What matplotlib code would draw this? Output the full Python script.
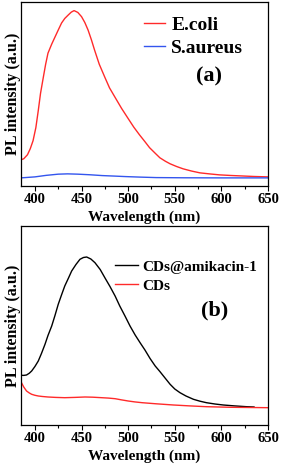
import matplotlib.pyplot as plt
from matplotlib.ticker import MultipleLocator

#%% data (arbitrary PL units)

wl_ecoli = [385, 388, 392, 395, 398, 401, 403.6, 406, 409, 411.5, 414, 418,
            421.5, 425, 428.6, 432, 435.8, 439, 442, 446, 450, 453.5, 457,
            460.5, 464, 469, 475, 480, 486, 493, 500, 506, 512, 518, 523,
            529, 534, 540, 545, 552, 559, 568, 577, 588, 598, 610, 620,
            635, 650]
pl_ecoli = [26, 27, 31, 37, 45, 58, 75, 92, 108, 121, 132, 141,
            148, 155, 162, 166.5, 170, 172.8, 174.3, 172.5, 168.3, 162.5, 155,
            145.5, 135, 121, 108, 97.5, 88, 77, 67, 58.5, 51, 44, 38,
            32.5, 28, 24.5, 22, 19.3, 17, 14.8, 13, 11.9, 11, 10.4, 10,
            9.4, 9]

wl_saureus = [385, 400, 412, 425, 435, 446, 459, 472, 485, 497, 512, 530,
              560, 600, 650]
pl_saureus = [8, 9, 10.5, 11.7, 12, 11.7, 11.1, 10.3, 9.8, 9.3, 8.8, 8.3,
              8.1, 8, 8]

wl_cdsami = [385, 388, 391, 394, 396.5, 400, 403.6, 407, 410.8, 414, 418,
             421.5, 425, 428.5, 432, 436, 439.4, 444, 448.3, 452, 455.5,
             460, 464.4, 470, 475, 480.5, 486, 491, 496.6, 502, 507.5,
             513, 518, 523.5, 529, 534, 540, 545, 550, 555.6, 562, 570,
             577, 584, 593, 602, 614, 627, 635]
pl_cdsami = [49.7, 49.6, 50, 51.8, 54, 58.5, 64, 71.5, 80.7, 89.5, 99,
             109.5, 120.7, 130, 139, 147, 154, 160.5, 165.7, 167.5, 168,
             166, 162.3, 155.5, 147.3, 138.5, 129, 119, 109, 99, 90,
             82, 75, 66.5, 59, 53.5, 46.5, 40.7, 36, 32.3, 29, 25.7,
             23.8, 22.3, 21, 20, 19.1, 18.3, 18]

wl_cds = [385, 388, 391, 394, 396.5, 400, 403.6, 408, 414, 422, 432, 443,
          453.7, 462, 471.6, 479, 486, 493, 500, 507, 515, 530, 548.5,
          566, 584, 610, 650]
pl_cds = [43.3, 38, 34, 32, 30.7, 29.7, 29, 28.5, 28, 27.6, 27.3, 27.6,
          28, 27.8, 27.3, 26.9, 26.3, 25.1, 24, 23.1, 22.3, 21.2, 20,
          19.1, 18.3, 17.7, 17.3]

#%%

plt.rcParams['font.family'] = ['Liberation Serif', 'DejaVu Serif']
plt.rcParams['font.weight'] = 'bold'

fig = plt.figure(figsize=(2.83, 4.66), dpi=100)
ax1 = fig.add_axes([0.074, 0.601, 0.873, 0.395])
ax2 = fig.add_axes([0.074, 0.088, 0.873, 0.427])

red = '#ff2a2a'
blue = '#3355ee'

ax1.plot(wl_ecoli, pl_ecoli, color=red, lw=1.0, label='E.coli')
ax1.plot(wl_saureus, pl_saureus, color=blue, lw=1.0, label='S.aureus')
ax1.set_ylim(0, 183)
ax1.legend(loc='upper left', bbox_to_anchor=(0.498, 0.922), frameon=False,
           fontsize=14, handlelength=1.1, handletextpad=0.3,
           labelspacing=0.3, borderaxespad=0, borderpad=0)
ax1.text(0.761, 0.592, '(a)', transform=ax1.transAxes, ha='center',
         va='center', fontsize=16, fontweight='bold')

ax2.plot(wl_cdsami, pl_cdsami, color='black', lw=1.0, label='CDs@amikacin-1')
ax2.plot(wl_cds, pl_cds, color=red, lw=1.0, label='CDs')
ax2.set_ylim(0, 199)
ax2.legend(loc='upper left', bbox_to_anchor=(0.38, 0.829), frameon=False,
           fontsize=11, handlelength=1.5, handletextpad=0.3,
           labelspacing=0.35, borderaxespad=0, borderpad=0)
ax2.text(0.785, 0.573, '(b)', transform=ax2.transAxes, ha='center',
         va='center', fontsize=16, fontweight='bold')

for ax in (ax1, ax2):
    ax.set_xlim(385, 650)
    ax.xaxis.set_major_locator(MultipleLocator(50))
    ax.xaxis.set_minor_locator(MultipleLocator(25))
    ax.set_yticks([])
    ax.tick_params(axis='x', which='major', direction='out', length=3.5,
                   width=0.8, labelsize=10.5, pad=1.5)
    ax.tick_params(axis='x', which='minor', direction='out', length=2,
                   width=0.8)
    ax.set_xlabel('Wavelength (nm)', fontsize=11, fontweight='bold',
                  labelpad=3.5)
    ax.set_ylabel('PL intensity (a.u.)', fontsize=11.5, fontweight='bold',
                  labelpad=0)
    for s in ax.spines.values():
        s.set_linewidth(0.9)

fig.savefig('out.png', dpi=100)
